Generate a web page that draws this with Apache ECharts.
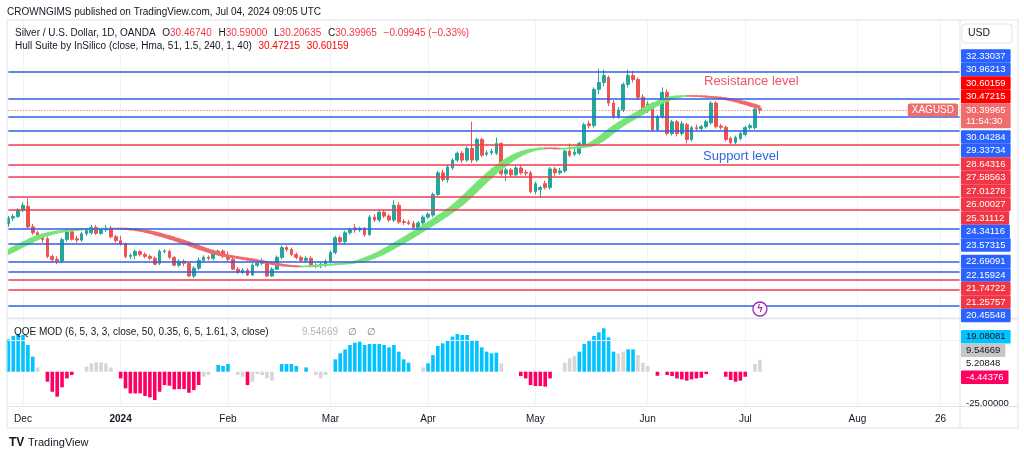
<!DOCTYPE html>
<html>
<head>
<meta charset="utf-8">
<title>XAGUSD 1D</title>
<script src="https://cdn.jsdelivr.net/npm/echarts/dist/echarts.min.js"></script>
<style>
  html, body { margin: 0; padding: 0; background: #fff; }
  #chart { width: 1024px; height: 458px; }
</style>
</head>
<body>
<div id="chart"></div>
<script>
var FONT = '"Liberation Sans", Arial, sans-serif';
var INK = '#131722';

// trading calendar (weekdays, minus the days OANDA printed no bar)
var holidays = ['2023-12-25', '2024-01-01', '2024-03-29'];
var firstDay = '2023-11-28', lastDay = '2024-08-30';
var MONTHS = ['Jan', 'Feb', 'Mar', 'Apr', 'May', 'Jun', 'Jul', 'Aug', 'Sep', 'Oct', 'Nov', 'Dec'];

// daily candles [open, high, low, close], Nov 28 2023 .. Jul 4 2024
var ohlc = [
  [24.60, 25.00, 24.45, 24.90], [24.90, 25.10, 24.75, 24.98], [24.98, 25.40, 24.90, 25.30],
  [25.30, 25.70, 25.20, 25.55], [25.50, 25.90, 24.35, 24.45], [24.45, 24.60, 24.05, 24.15],
  [24.15, 24.25, 23.85, 23.95], [23.95, 24.05, 23.65, 23.80], [23.85, 23.95, 22.85, 22.95],
  [22.95, 23.05, 22.65, 22.78], [22.80, 22.95, 22.55, 22.72], [22.72, 23.90, 22.60, 23.80],
  [23.80, 24.35, 23.70, 24.20], [24.20, 24.30, 23.75, 23.82], [23.85, 24.00, 23.65, 23.78],
  [23.78, 24.20, 23.70, 24.10], [24.10, 24.40, 24.00, 24.28], [24.15, 24.55, 24.05, 24.42],
  [24.42, 24.55, 24.05, 24.12], [24.12, 24.40, 24.05, 24.30], [24.30, 24.55, 24.20, 24.38],
  [24.38, 24.50, 23.85, 23.95], [23.95, 24.05, 23.65, 23.75],
  [23.75, 24.00, 23.50, 23.60], [23.60, 23.65, 22.85, 22.95], [22.95, 23.10, 22.80, 23.00],
  [23.00, 23.30, 22.80, 23.20], [23.20, 23.25, 22.95, 23.05], [23.05, 23.15, 22.85, 22.95],
  [22.95, 23.05, 22.75, 22.85], [22.85, 22.95, 22.50, 22.55], [22.60, 23.30, 22.50, 23.20],
  [23.20, 23.30, 23.10, 23.22], [23.20, 23.30, 22.80, 22.90], [22.90, 22.95, 22.45, 22.50],
  [22.50, 22.80, 22.40, 22.70], [22.70, 22.80, 22.45, 22.60], [22.60, 22.65, 21.90, 21.95],
  [21.95, 22.45, 21.85, 22.35], [22.35, 22.90, 22.25, 22.75], [22.75, 23.00, 22.65, 22.90],
  [22.90, 23.00, 22.75, 22.85], [22.85, 23.30, 22.75, 23.20], [23.15, 23.30, 23.05, 23.22],
  [23.22, 23.30, 22.85, 22.95],
  [22.95, 23.20, 22.70, 22.80], [22.80, 22.90, 22.25, 22.30], [22.30, 22.40, 22.05, 22.15],
  [22.15, 22.35, 22.05, 22.25], [22.25, 22.35, 21.95, 22.00], [22.00, 22.60, 21.95, 22.50],
  [22.50, 22.70, 22.40, 22.60], [22.60, 22.85, 22.50, 22.70], [22.60, 22.65, 21.90, 21.95],
  [21.95, 22.40, 21.90, 22.30], [22.30, 23.00, 22.25, 22.90], [22.90, 23.50, 22.80, 23.40],
  [23.40, 23.50, 23.20, 23.30], [23.30, 23.40, 22.95, 23.05], [23.05, 23.15, 22.80, 22.90],
  [22.90, 23.00, 22.65, 22.75], [22.75, 22.95, 22.65, 22.85], [22.85, 22.95, 22.40, 22.45],
  [22.45, 22.60, 22.35, 22.50], [22.48, 22.65, 22.35, 22.55], [22.50, 22.80, 22.40, 22.70],
  [22.70, 23.25, 22.60, 23.15], [23.15, 24.00, 23.05, 23.90], [23.90, 24.00, 23.60, 23.70],
  [23.70, 24.25, 23.60, 24.15], [24.15, 24.40, 24.05, 24.30], [24.40, 24.60, 24.15, 24.30],
  [24.30, 24.45, 24.20, 24.38], [24.38, 24.45, 23.95, 24.05], [24.05, 25.05, 24.00, 24.95],
  [24.95, 25.10, 24.70, 24.80], [24.80, 25.30, 24.70, 25.20], [25.20, 25.30, 24.90, 25.00],
  [25.00, 25.10, 24.70, 24.80], [24.80, 25.80, 24.70, 25.55], [25.55, 25.70, 24.60, 24.70],
  [24.72, 24.85, 24.55, 24.68], [24.68, 24.80, 24.55, 24.62], [24.62, 24.75, 24.35, 24.42],
  [24.42, 24.75, 24.35, 24.65], [24.65, 25.05, 24.55, 24.95],
  [24.95, 25.20, 24.85, 25.10], [25.05, 26.20, 24.95, 26.10], [26.10, 27.30, 26.00, 27.20],
  [27.20, 27.35, 26.75, 26.85], [26.85, 27.60, 26.70, 27.50], [27.45, 27.95, 27.35, 27.85],
  [27.85, 28.30, 27.75, 28.20], [28.20, 28.30, 27.70, 27.85], [27.85, 28.55, 27.75, 28.45],
  [28.45, 29.80, 27.70, 27.85], [27.85, 29.00, 27.75, 28.90], [28.90, 29.00, 28.00, 28.10],
  [28.15, 28.35, 28.05, 28.22], [28.22, 28.45, 28.10, 28.30], [28.20, 29.00, 28.10, 28.70],
  [28.70, 28.75, 27.05, 27.15], [27.15, 27.45, 26.80, 27.35], [27.35, 27.45, 27.00, 27.10],
  [27.10, 27.55, 27.00, 27.45], [27.45, 27.60, 27.10, 27.20], [27.22, 27.35, 27.05, 27.18],
  [27.20, 27.30, 26.15, 26.25],
  [26.25, 26.75, 26.10, 26.65], [26.35, 26.55, 25.95, 26.45], [26.65, 26.80, 26.35, 26.45],
  [26.45, 27.50, 26.35, 27.40], [27.40, 27.50, 27.05, 27.20], [27.20, 27.45, 27.10, 27.30],
  [27.30, 28.40, 27.20, 28.30], [28.30, 28.70, 28.00, 28.10], [28.15, 28.40, 28.05, 28.25],
  [28.20, 28.80, 28.10, 28.70], [28.65, 29.75, 28.55, 29.65], [29.70, 29.85, 29.45, 29.60],
  [29.60, 31.55, 29.50, 31.45], [31.45, 32.50, 31.20, 31.80], [31.80, 32.45, 31.60, 32.15],
  [32.05, 32.15, 30.60, 30.75], [30.75, 30.90, 29.95, 30.05], [30.05, 30.55, 29.95, 30.40],
  [30.40, 31.80, 30.30, 31.70], [31.70, 32.45, 31.55, 32.15], [32.15, 32.40, 31.80, 31.95],
  [31.95, 32.05, 30.90, 31.05], [31.05, 31.20, 30.20, 30.40],
  [30.40, 30.85, 30.25, 30.70], [30.70, 30.80, 29.30, 29.40], [29.40, 30.15, 29.30, 30.05],
  [30.05, 31.55, 29.95, 31.30], [31.30, 31.45, 29.10, 29.20], [29.20, 29.90, 29.10, 29.80],
  [29.80, 29.90, 29.05, 29.20], [29.20, 29.85, 29.10, 29.70], [29.65, 29.75, 28.70, 28.90],
  [28.90, 29.60, 28.80, 29.50], [29.50, 29.65, 29.35, 29.45], [29.45, 29.65, 29.30, 29.55],
  [29.55, 29.90, 29.45, 29.80], [29.75, 30.85, 29.65, 30.75], [30.75, 30.85, 29.45, 29.55],
  [29.58, 29.70, 29.40, 29.52], [29.52, 29.60, 28.80, 28.90], [28.95, 29.05, 28.65, 28.75],
  [28.75, 29.10, 28.65, 29.00], [28.95, 29.30, 28.85, 29.20],
  [29.15, 29.60, 29.05, 29.50], [29.50, 29.70, 29.40, 29.60], [29.50, 30.55, 29.40, 30.45],
  [30.4674, 30.59, 30.20635, 30.39965]
];

// Hull Suite line, one value per bar; hullLead = the two bars before Nov 28
var hullLead = [23.05, 23.18];
var hull = [
  23.30, 23.43, 23.55, 23.68, 23.80, 23.92, 24.01, 24.08, 24.14, 24.19,
  24.23, 24.26, 24.29, 24.31, 24.32, 24.33, 24.34, 24.35, 24.36, 24.36,
  24.37, 24.37, 24.37, 24.36, 24.34, 24.31, 24.28, 24.24, 24.19, 24.13,
  24.06, 23.99, 23.92, 23.84, 23.76, 23.67, 23.59, 23.50, 23.41, 23.32,
  23.24, 23.16, 23.09, 23.02, 22.97, 22.93, 22.89, 22.85, 22.81, 22.77,
  22.73, 22.69, 22.65, 22.60, 22.55, 22.51, 22.48, 22.46, 22.44, 22.43,
  22.43, 22.45, 22.47, 22.49, 22.51, 22.53, 22.55, 22.57, 22.59, 22.62,
  22.65, 22.70, 22.78, 22.87, 22.97, 23.08, 23.20, 23.34, 23.48, 23.62,
  23.77, 23.92, 24.07, 24.22, 24.37, 24.53, 24.69, 24.85, 25.02, 25.19,
  25.36, 25.55, 25.77, 26.00, 26.24, 26.48, 26.72, 26.95, 27.17, 27.38,
  27.57, 27.75, 27.92, 28.06, 28.18, 28.28, 28.35, 28.40, 28.43, 28.46,
  28.46, 28.45, 28.43, 28.42, 28.44, 28.48, 28.51, 28.55, 28.60, 28.70,
  28.85, 29.03, 29.23, 29.42, 29.60, 29.76, 29.90, 30.04, 30.18, 30.33,
  30.48, 30.62, 30.74, 30.85, 30.95, 31.03, 31.08, 31.11, 31.12, 31.12,
  31.11, 31.10, 31.08, 31.06, 31.04, 31.01, 30.97, 30.93, 30.88, 30.82,
  30.75, 30.68, 30.60159, 30.54, 30.47215
];

// QQE MOD histogram per bar (null = no bar) and its colour: b blue, r red, g grey
var qqeHist = [
  25.7, 28.3, 29.9, 29.1, 21.2, 11.9, 3.4, null, -7.9, -15.9,
  -19.8, -12.4, -5.3, -2.6, null, null, 4.0, 6.6, 7.4, 7.4,
  6.6, 3.4, null, -5.3, -13.2, -17.2, -17.2, -17.2, -19.3, -20.4,
  -22.5, -15.9, -10.6, -11.1, -14.0, -13.8, -13.8, -16.7, -14.6, -10.6,
  -4.0, -2.6, null, 5.3, 4.5, 6.1, null, -2.6, -4.0, -10.6,
  -7.9, -1.9, -2.6, -5.3, -7.1, null, 6.1, 6.1, 6.1, 4.5,
  null, 3.4, null, -2.6, -5.3, -2.6, null, 9.8, 14.6, 17.7,
  21.2, 23.0, 23.8, 21.2, 22.0, 22.0, 22.0, 21.2, 19.3, 21.2,
  15.9, 9.8, 7.1, null, null, 3.4, 6.6, 13.2, 20.4, 22.5,
  24.6, 27.8, 29.9, 29.1, 29.1, 24.6, 24.6, 19.3, 15.9, 14.6,
  15.1, 6.6, null, null, null, -3.4, -5.3, -10.6, -11.4, -11.4,
  -11.9, -5.3, null, null, 7.1, 10.6, 12.4, 15.9, 22.0, 24.3,
  28.3, 31.2, 34.4, 27.2, 15.9, 14.6, 15.9, 17.7, 17.7, 13.2,
  7.1, 4.5, null, -3.2, null, -2.6, -3.4, -5.3, -6.1, -7.1,
  -6.1, -5.3, -4.8, -1.9, null, null, null, -4.0, -6.6, -7.9,
  -7.1, -4.0, null, 6.1, 9.54669
];
var qqeTone = 'bbbbbbg-rrrrrr--gggggg-rrrrrrrrrrrrrrrrrgg-bbb-ggrggggg-bbbb-b-ggg-' +
  'bbbbbbbbbbbbbbbb--gbbbbbbbbbbbbbbbg---rrrrrrr--gggbbbbbbbbggbbggg-r-rrrrrrrrr---rrrrr-gg';

// horizontal levels drawn on the chart
var blueLevels = [32.33037, 30.96213, 30.04284, 29.33734, 24.34116, 23.57315, 22.69091, 22.15924, 20.45548];
var redLevels = [28.64316, 27.58563, 27.01278, 26.00027, 25.31112, 21.74722, 21.25757];
var lastPrice = 30.39965;
var countdown = '11:54:30';

// values shown on the QQE price scale
var qqeScale = [19.08081, 9.54669, 5.20848, -4.44376, -25.0];

var UP = '#26a69a', DOWN = '#ef5350';
var LINE_BLUE = '#2f5fe6', LINE_RED = '#ee3b4f';
var TAG_BLUE = '#2962ff', TAG_RED = '#f23645', HULL_RED = '#ff0000', LAST_BG = '#ef6d6d';
var BAND_UP = '#78e478', BAND_DOWN = '#ee6b6b';
var TONES = { b: '#00c3ff', r: '#ff0062', g: '#d6d6d6' };

var days = [];
for (var t = Date.parse(firstDay); t <= Date.parse(lastDay); t += 86400000) {
  var d = new Date(t), wd = d.getUTCDay(), s = d.toISOString().slice(0, 10);
  if (wd === 0 || wd === 6 || holidays.indexOf(s) >= 0) continue;
  days.push(s);
}

function isTick(i) {
  if (i === 0) return false;
  return days[i].slice(5, 7) !== days[i - 1].slice(5, 7) || days[i] === '2024-08-26';
}
function tickLabel(v) {
  if (v === '2024-08-26') return '26';
  var m = +v.slice(5, 7);
  return m === 1 ? '{y|' + v.slice(0, 4) + '}' : MONTHS[m - 1];
}

var hullAll = hullLead.concat(hull);
function hullAt(i) { return hullAll[i + hullLead.length]; }

var chart = echarts.init(document.getElementById('chart'));

var option = {
  animation: false,
  backgroundColor: '#ffffff',
  textStyle: { fontFamily: FONT },
  grid: [
    { left: 8.36, right: 64, top: 20, height: 298, outerBoundsMode: 'none' },
    { left: 8.36, right: 64, top: 320, height: 85, outerBoundsMode: 'none' }
  ],
  xAxis: [
    {
      type: 'category', gridIndex: 0, data: days, boundaryGap: false,
      axisLine: { show: false }, axisTick: { show: false }, axisLabel: { show: false, interval: isTick },
      splitLine: { show: true, interval: isTick, lineStyle: { color: '#f0f3fa', width: 1 } }
    },
    {
      type: 'category', gridIndex: 1, data: days, boundaryGap: false,
      axisLine: { show: false }, axisTick: { show: false },
      axisLabel: {
        interval: isTick, formatter: tickLabel, color: INK, fontSize: 10, margin: 9, fontFamily: FONT,
        rich: { y: { fontWeight: 'bold', fontSize: 10, color: INK, fontFamily: FONT } }
      },
      splitLine: { show: true, interval: isTick, lineStyle: { color: '#f0f3fa', width: 1 } }
    }
  ],
  yAxis: [
    { type: 'value', gridIndex: 0, min: 19.814, max: 34.979, show: false },
    { type: 'value', gridIndex: 1, min: -26.4, max: 41.0, show: false }
  ],
  series: [
    {
      name: 'XAGUSD',
      type: 'candlestick',
      xAxisIndex: 0, yAxisIndex: 0,
      barWidth: 3.2,
      data: ohlc.map(function (r) { return [r[0], r[3], r[2], r[1]]; }),
      itemStyle: { color: UP, color0: DOWN, borderColor: UP, borderColor0: DOWN, borderWidth: 1 },
      markLine: {
        silent: true, symbol: ['none', 'none'], animation: false,
        label: { show: false },
        data: blueLevels.map(function (v) { return { yAxis: v, lineStyle: { color: LINE_BLUE, width: 1.6, type: 'solid' } }; })
          .concat(redLevels.map(function (v) { return { yAxis: v, lineStyle: { color: LINE_RED, width: 1.6, type: 'solid' } }; }))
          .concat([{ yAxis: lastPrice, lineStyle: { color: DOWN, width: 1, type: [1, 2] } }])
      },
      z: 2
    },
    {
      name: 'Hull',
      type: 'custom',
      xAxisIndex: 0, yAxisIndex: 0,
      data: hull.map(function (v, i) { return [i, v]; }),
      encode: { x: 0, y: 1 },
      renderItem: function (params, api) {
        var i = params.dataIndex;
        if (i < 1) return null;
        var c = hullAt(i) > hullAt(i - 2) ? BAND_UP : BAND_DOWN;
        return {
          type: 'polygon',
          shape: {
            points: [
              api.coord([i - 1, hullAt(i - 1)]), api.coord([i, hullAt(i)]),
              api.coord([i, hullAt(i - 2)]), api.coord([i - 1, hullAt(i - 3)])
            ]
          },
          style: { fill: c, stroke: c, lineWidth: 1.3 }
        };
      },
      z: 3
    },
    {
      name: 'QQE MOD',
      type: 'bar',
      xAxisIndex: 1, yAxisIndex: 1,
      barWidth: 3.6,
      data: qqeHist.map(function (v, i) {
        return { value: v, itemStyle: { color: TONES[qqeTone.charAt(i)] || '#d6d6d6' } };
      }),
      markLine: {
        silent: true, symbol: ['none', 'none'], label: { show: false },
        lineStyle: { color: '#eceff5', width: 1, type: 'solid' },
        data: [{ yAxis: 25 }, { yAxis: -25 }]
      }
    }
  ]
};

chart.setOption(option);

// price-scale tags: stacked so they never overlap, anchored on one tag
var TAG_H = 13.5;
function placeTags(tags, axisIndex) {
  tags.forEach(function (t) { t.y0 = chart.convertToPixel({ yAxisIndex: axisIndex }, t.v); });
  tags.sort(function (a, b) { return a.y0 - b.y0; });
  var a = tags.findIndex(function (t) { return t.anchor; });
  tags[a].y = tags[a].y0;
  for (var i = a - 1; i >= 0; i--) tags[i].y = Math.min(tags[i].y0, tags[i + 1].y - TAG_H);
  for (i = a + 1; i < tags.length; i++) tags[i].y = Math.max(tags[i].y0, tags[i - 1].y + TAG_H * (tags[i - 1].sub ? 2 : 1));
  return tags;
}
function tagElements(tags) {
  return tags.map(function (t) {
    return {
      type: 'text', x: 961, y: t.y - TAG_H / 2, z: 100,
      style: {
        text: t.v.toFixed(5) + (t.sub ? '\n' + t.sub : ''),
        font: '9.5px ' + FONT, fill: t.fg, lineHeight: 11.5,
        backgroundColor: t.bg || 'transparent', padding: [1, 5, 1, 5], borderRadius: 1,
        verticalAlign: 'top', align: 'left'
      }
    };
  });
}

var mainTags = blueLevels.map(function (v) { return { v: v, bg: TAG_BLUE, fg: '#fff' }; })
  .concat(redLevels.map(function (v) { return { v: v, bg: TAG_RED, fg: '#fff' }; }))
  .concat([
    { v: hull[hull.length - 3], bg: HULL_RED, fg: '#fff' },
    { v: hull[hull.length - 1], bg: HULL_RED, fg: '#fff' },
    { v: lastPrice, bg: LAST_BG, fg: '#fff', sub: countdown, anchor: true }
  ]);
var qqeStyles = [
  { bg: '#00c3ff', fg: INK }, { bg: '#c6c6c6', fg: INK }, { bg: null, fg: INK },
  { bg: '#ff0062', fg: '#fff', anchor: true }, { bg: null, fg: INK }
];
var qqeTags = qqeScale.map(function (v, i) {
  return { v: v, bg: qqeStyles[i].bg, fg: qqeStyles[i].fg, anchor: qqeStyles[i].anchor };
});

placeTags(mainTags, 0);
placeTags(qqeTags, 1);

var lastY = chart.convertToPixel({ yAxisIndex: 0 }, lastPrice);
var lastX = chart.convertToPixel({ xAxisIndex: 0 }, days[ohlc.length - 1]);

var graphics = [
  // frame
  { type: 'rect', shape: { x: 7, y: 20, width: 1011, height: 408 }, style: { fill: 'none', stroke: '#e0e3eb', lineWidth: 1 }, z: 90 },
  { type: 'line', shape: { x1: 960, y1: 20, x2: 960, y2: 428 }, style: { stroke: '#e0e3eb', lineWidth: 1 }, z: 90 },
  { type: 'line', shape: { x1: 7, y1: 318.5, x2: 1018, y2: 318.5 }, style: { stroke: '#e0e3eb', lineWidth: 1.5 }, z: 90 },
  { type: 'line', shape: { x1: 7, y1: 406.5, x2: 1018, y2: 406.5 }, style: { stroke: '#e0e3eb', lineWidth: 1 }, z: 90 },
  // header
  { type: 'text', x: 7, y: 12, style: { text: 'CROWNGIMS published on TradingView.com, Jul 04, 2024 09:05 UTC', font: '10px ' + FONT, fill: INK, verticalAlign: 'middle' } },
  {
    type: 'text', x: 15, y: 33, z: 95,
    style: {
      text: '{d|Silver / U.S. Dollar, 1D, OANDA}  {d|O}{r|30.46740}  {d|H}{r|30.59000}  {d|L}{r|30.20635}  {d|C}{r|30.39965}  {r|\u22120.09945 (\u22120.33%)}',
      verticalAlign: 'middle',
      rich: { d: { font: '10px ' + FONT, fill: INK }, r: { font: '10px ' + FONT, fill: '#f23645' } }
    }
  },
  {
    type: 'text', x: 15, y: 46, z: 95,
    style: {
      text: '{d|Hull Suite by InSilico (close, Hma, 51, 1.5, 240, 1, 40)}  {r|30.47215}  {r|30.60159}',
      verticalAlign: 'middle',
      rich: { d: { font: '10px ' + FONT, fill: INK }, r: { font: '10px ' + FONT, fill: '#ff0000' } }
    }
  },
  {
    type: 'text', x: 14, y: 332, z: 95,
    style: {
      text: '{d|QQE MOD (6, 5, 3, 3, close, 50, 0.35, 6, 5, 1.61, 3, close)}          {g|9.54669}   {g2|\u2205}   {g2|\u2205}',
      verticalAlign: 'middle',
      rich: { d: { font: '10px ' + FONT, fill: INK }, g: { font: '10px ' + FONT, fill: '#b2b5be' }, g2: { font: '10px ' + FONT, fill: '#787b86' } }
    }
  },
  // annotations
  { type: 'text', x: 704, y: 81, z: 95, style: { text: 'Resistance level', font: '13px ' + FONT, fill: '#ef5466', verticalAlign: 'middle' } },
  { type: 'text', x: 703, y: 156, z: 95, style: { text: 'Support level', font: '13px ' + FONT, fill: '#3465e0', verticalAlign: 'middle' } },
  // symbol tag on the last-price line
  {
    type: 'text', x: 958, y: lastY, z: 100,
    style: { text: 'XAGUSD', font: '10px ' + FONT, fill: '#fff', backgroundColor: LAST_BG, padding: [2, 4, 1, 4], borderRadius: 2, align: 'right', verticalAlign: 'middle' }
  },
  // currency box
  { type: 'rect', shape: { x: 962, y: 24, width: 50, height: 19, r: 3 }, style: { fill: '#fff', stroke: '#e0e3eb', lineWidth: 1 }, z: 95 },
  { type: 'text', x: 968, y: 33.5, z: 96, style: { text: 'USD', font: '10.5px ' + FONT, fill: INK, verticalAlign: 'middle' } },
  // event marker under the last bar
  { type: 'circle', shape: { cx: lastX, cy: 309, r: 7 }, style: { fill: '#fff', stroke: '#9c27b0', lineWidth: 1.3 }, z: 95 },
  { type: 'text', x: lastX, y: 309, z: 96, style: { text: '\u03DF', font: 'bold 10px ' + FONT, fill: '#9c27b0', align: 'center', verticalAlign: 'middle' } },
  // footer
  { type: 'text', x: 9, y: 443, style: { text: 'TV', font: '900 12px ' + FONT, fill: INK, verticalAlign: 'middle' } },
  { type: 'text', x: 28, y: 443, style: { text: 'TradingView', font: '11px ' + FONT, fill: INK, verticalAlign: 'middle' } }
].concat(tagElements(mainTags)).concat(tagElements(qqeTags));

chart.setOption({ graphic: graphics });
</script>
</body>
</html>
